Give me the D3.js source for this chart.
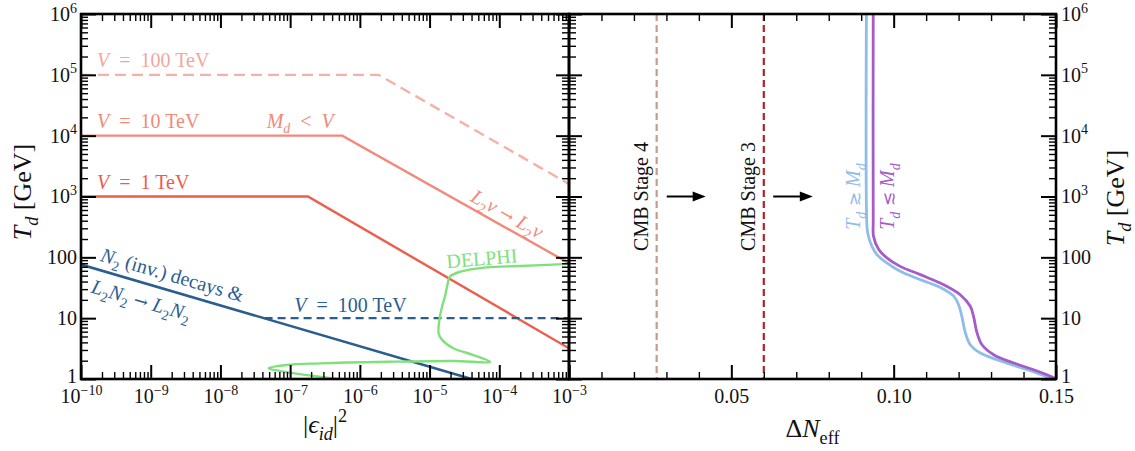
<!DOCTYPE html>
<html>
<head>
<meta charset="utf-8">
<script src="https://cdn.jsdelivr.net/npm/d3@7"></script>
<style>
  body { margin: 0; background: #fff; }
  svg { display: block; font-family: "Liberation Serif", "Times New Roman", serif; }
</style>
</head>
<body>
<svg id="chart" width="1135" height="451"></svg>
<script>
// tick values
const tdTicks = [1, 10, 100, 1e3, 1e4, 1e5, 1e6];
const epsTicks = [1e-10, 1e-9, 1e-8, 1e-7, 1e-6, 1e-5, 1e-4, 1e-3];
const dnTicks = [0, 0.05, 0.10, 0.15];
const dnMinorTicks = [0.01, 0.02, 0.03, 0.04, 0.06, 0.07, 0.08, 0.09, 0.11, 0.12, 0.13, 0.14];

// left panel: [|eps_id|^2, T_d in GeV]
const v1TeV = [[1e-10, 1e3], [1.8e-7, 1e3], [1e-3, 3.2]];
const v10TeV = [[1e-10, 1e4], [5.6e-7, 1e4], [1e-3, 80]];
const v100TeV = [[1e-10, 1e5], [1.86e-6, 1e5], [1e-3, 1.6e3]];
const n2Decays = [[1e-10, 76], [4e-5, 1]];
const n2V100 = [[4.3e-8, 10], [1e-3, 10]];
const delphi = [
  [1e-3, 78], [2.0e-4, 72], [6.6e-5, 68.5], [2.75e-5, 58], [1.95e-5, 48], [1.82e-5, 37],
  [1.66e-5, 22.5], [1.51e-5, 15.4], [1.38e-5, 9.3], [1.35e-5, 5.6], [1.51e-5, 4.4],
  [2.19e-5, 3.2], [4.27e-5, 2.48], [7.4e-5, 1.92], [2.2e-5, 1.98], [2.45e-6, 1.92],
  [2.7e-7, 1.81], [8.9e-8, 1.70], [4.9e-8, 1.50], [7.2e-8, 1.35], [1.74e-7, 1.16], [4.7e-7, 1.0]
];

// right panel: [Delta N_eff, T_d in GeV]
const cmbStage4 = 0.027;
const cmbStage3 = 0.06;
const cmbArrows = [[0.0301, 0.0421], [0.0629, 0.0751]];
const dnAbove = [
  [0.0916, 1e6], [0.0917, 400], [0.092, 251], [0.0933, 151], [0.0949, 110], [0.0979, 81],
  [0.102, 59], [0.1082, 43], [0.1144, 32], [0.1185, 23], [0.12, 16.6], [0.121, 10.7],
  [0.1221, 5.7], [0.1236, 3.66], [0.1267, 2.67], [0.1318, 2.08], [0.138, 1.61],
  [0.1441, 1.26], [0.149, 1]
];
const dnBelow = [
  [0.0937, 1e6], [0.0937, 400], [0.0938, 221], [0.0954, 134], [0.0979, 98], [0.102, 71],
  [0.1082, 52], [0.1154, 35.5], [0.1205, 24.3], [0.1236, 15.7], [0.1246, 10.7],
  [0.1257, 5.7], [0.1272, 3.66], [0.1308, 2.51], [0.137, 1.83], [0.1431, 1.42],
  [0.1483, 1.11], [0.15, 1]
];

const FONT = '"Liberation Serif", "Times New Roman", serif';
const EN = '\u2002';
const yTop = 14, yBot = 379, lx0 = 81, mid = 569, rx1 = 1056;

const svg = d3.select('#chart');
const xL = d3.scaleLog().domain([1e-10, 1e-3]).range([lx0, mid]);
const xR = d3.scaleLinear().domain([0, 0.15]).range([mid, rx1]);
const y = d3.scaleLog().domain([1, 1e6]).range([yBot, yTop]);

const isMajor = (majors) => (v) => majors.some(m => Math.abs(m - v) / m < 1e-6);
const epsMinor = xL.ticks().filter(v => !isMajor(epsTicks)(v));
const tdMinor = y.ticks().filter(v => !isMajor(tdTicks)(v));

// text with italic parts, sub- and superscripts, math symbols
function rich(text, parts, fs) {
  let shift = 0;
  parts.forEach(p => {
    const lvl = p.sub ? 0.28 : p.sup ? -0.42 : 0;
    const ts = text.append('tspan').text(p.t);
    if (p.it) ts.attr('font-style', 'italic');
    if (p.sub || p.sup) ts.attr('font-size', fs * 0.7);
    if (p.sym) ts.attr('font-family', '"DejaVu Serif", serif').attr('font-size', fs * 0.85);
    const dy = (lvl - shift) * fs;
    if (dy) ts.attr('dy', dy);
    shift = lvl;
  });
  return text;
}

function powLabel(t, v) {
  const e = Math.round(Math.log10(v));
  if (e >= 0 && e <= 2) { t.text(v); return; }
  rich(t, [{ t: '10' }, { t: e < 0 ? '\u2212' + (-e) : String(e), sup: true }], 20);
}

function drawAxis(make, scale, tr, majors, minors, majLen, minLen, pad, fmt) {
  const gm = svg.append('g').attr('transform', tr)
    .call(make(scale).tickValues(minors).tickSizeInner(-minLen).tickSizeOuter(0).tickFormat(''));
  gm.select('.domain').remove();
  gm.selectAll('line').attr('stroke-width', 1.4);

  const gM = svg.append('g').attr('transform', tr)
    .call(make(scale).tickValues(majors).tickSizeInner(-majLen).tickSizeOuter(0).tickPadding(pad).tickFormat(''));
  gM.select('.domain').remove();
  gM.selectAll('line').attr('stroke-width', 2);
  gM.attr('font-size', 20).attr('font-family', FONT);
  if (fmt) {
    gM.selectAll('.tick text').attr('fill', '#111').each(function (d) { fmt(d3.select(this), d); });
  } else {
    gM.selectAll('.tick text').remove();
  }
  return gM;
}

// clip paths
const defs = svg.append('defs');
defs.append('clipPath').attr('id', 'clipL').append('rect')
  .attr('x', lx0).attr('y', yTop).attr('width', mid - lx0).attr('height', yBot - yTop);
defs.append('clipPath').attr('id', 'clipR').append('rect')
  .attr('x', mid).attr('y', yTop).attr('width', rx1 - mid).attr('height', yBot - yTop);

// ---------- left panel ----------
const gL = svg.append('g').attr('clip-path', 'url(#clipL)');
const lineL = d3.line().x(d => xL(d[0])).y(d => y(d[1]));

gL.append('path').datum(v100TeV).attr('d', lineL).attr('fill', 'none')
  .attr('stroke', '#f6b1a7').attr('stroke-width', 2.4).attr('stroke-dasharray', '11,6');
gL.append('path').datum(v10TeV).attr('d', lineL).attr('fill', 'none')
  .attr('stroke', '#f2897a').attr('stroke-width', 2.4);
gL.append('path').datum(v1TeV).attr('d', lineL).attr('fill', 'none')
  .attr('stroke', '#ee5c4c').attr('stroke-width', 2.4);
gL.append('path').datum(n2V100).attr('d', lineL).attr('fill', 'none')
  .attr('stroke', '#2b5e90').attr('stroke-width', 2.4).attr('stroke-dasharray', '8,5');
gL.append('path').datum(n2Decays).attr('d', lineL).attr('fill', 'none')
  .attr('stroke', '#2b5e90').attr('stroke-width', 2.6);
gL.append('path').datum(delphi).attr('d', d3.line().x(d => xL(d[0])).y(d => y(d[1]))
  .curve(d3.curveCatmullRom.alpha(0.5))).attr('fill', 'none')
  .attr('stroke', '#80e07c').attr('stroke-width', 2.4);

// label placed along a straight segment of a curve
function alongSeg(seg, eps, off, parts, color) {
  const p0 = [xL(seg[0][0]), y(seg[0][1])], p1 = [xL(seg[1][0]), y(seg[1][1])];
  const ang = Math.atan2(p1[1] - p0[1], p1[0] - p0[0]) * 180 / Math.PI;
  const t = (xL(eps) - p0[0]) / (p1[0] - p0[0]);
  const px = p0[0] + t * (p1[0] - p0[0]), py = p0[1] + t * (p1[1] - p0[1]);
  const txt = svg.append('text').attr('font-size', 20).attr('fill', color)
    .attr('transform', `translate(${px},${py}) rotate(${ang}) translate(0,${off})`);
  rich(txt, parts, 20);
}

function label(x, yy, parts, color, rot) {
  const txt = svg.append('text').attr('font-size', 20).attr('fill', color)
    .attr('transform', `translate(${x},${yy}) rotate(${rot || 0})`);
  return rich(txt, parts, 20);
}

const arrow = { t: ' \u2192 ', sym: true };
label(xL(1.7e-10), y(1.35e5), [{ t: 'V', it: true }, { t: EN + '=' + EN + '100 TeV' }], '#f4a69b');
label(xL(1.7e-10), y(1.35e4), [{ t: 'V', it: true }, { t: EN + '=' + EN + '10 TeV' }], '#f2897a');
label(xL(1.7e-10), y(1.32e3), [{ t: 'V', it: true }, { t: EN + '=' + EN + '1 TeV' }], '#ee5c4c');
label(xL(4.6e-8), y(1.35e4), [{ t: 'M', it: true }, { t: 'd', it: true, sub: true }, { t: EN + '<' + EN },
  { t: 'V', it: true }], '#f2897a');
alongSeg(v10TeV.slice(1), 3.4e-5, -6,
  [{ t: 'L', it: true }, { t: '2', sub: true }, { t: '\u03bd', it: true }, arrow,
   { t: 'L', it: true }, { t: '2', sub: true }, { t: '\u03bd', it: true }], '#f2897a');
alongSeg(n2Decays, 1.7e-10, -9,
  [{ t: 'N', it: true }, { t: '2', sub: true }, { t: ' (inv.) decays &' }], '#2b5e90');
alongSeg(n2Decays, 1.7e-10, 24,
  [{ t: 'L', it: true }, { t: '2', sub: true }, { t: 'N', it: true }, { t: '2', sub: true }, arrow,
   { t: 'L', it: true }, { t: '2', sub: true }, { t: 'N', it: true }, { t: '2', sub: true }], '#2b5e90');
label(xL(1.15e-7), y(12.8), [{ t: 'V', it: true }, { t: EN + '=' + EN + '100 TeV' }], '#2b5e90');
label(xL(1.78e-5), y(66), [{ t: 'DELPHI' }], '#80e07c', -5);

// ---------- right panel ----------
const gR = svg.append('g').attr('clip-path', 'url(#clipR)');
const lineR = d3.line().x(d => xR(d[0])).y(d => y(d[1])).curve(d3.curveCatmullRom.alpha(0.5));

gR.append('line').attr('x1', xR(cmbStage4)).attr('x2', xR(cmbStage4)).attr('y1', yTop).attr('y2', yBot)
  .attr('stroke', '#bf9f8c').attr('stroke-width', 2.2).attr('stroke-dasharray', '7,4');
gR.append('line').attr('x1', xR(cmbStage3)).attr('x2', xR(cmbStage3)).attr('y1', yTop).attr('y2', yBot)
  .attr('stroke', '#b0222b').attr('stroke-width', 2.2).attr('stroke-dasharray', '7,4');
gR.append('path').datum(dnAbove).attr('d', lineR).attr('fill', 'none')
  .attr('stroke', '#8fbde9').attr('stroke-width', 2.8);
gR.append('path').datum(dnBelow).attr('d', lineR).attr('fill', 'none')
  .attr('stroke', '#a55bc8').attr('stroke-width', 2.8);

const yArrow = y(1e3);
cmbArrows.forEach(a => {
  const x0 = xR(a[0]), x1 = xR(a[1]);
  gR.append('line').attr('x1', x0).attr('x2', x1 - 8).attr('y1', yArrow).attr('y2', yArrow)
    .attr('stroke', '#000').attr('stroke-width', 2);
  gR.append('path').attr('d', `M${x1},${yArrow} L${x1 - 13},${yArrow - 5} L${x1 - 13},${yArrow + 5} Z`).attr('fill', '#000');
});

function vlabel(x, parts, color) {
  const txt = svg.append('text').attr('font-size', 20).attr('fill', color).attr('text-anchor', 'middle')
    .attr('transform', `translate(${x},${yArrow}) rotate(-90)`);
  rich(txt, parts, 20);
}
vlabel(xR(cmbStage4) - 9, [{ t: 'CMB Stage 4' }], '#111');
vlabel(xR(cmbStage3) - 9, [{ t: 'CMB Stage 3' }], '#111');
vlabel(xR(0.0915) - 6, [{ t: 'T', it: true }, { t: 'd', it: true, sub: true }, { t: ' \u2273 ', sym: true },
  { t: 'M', it: true }, { t: 'd', it: true, sub: true }], '#8fbde9');
vlabel(xR(0.0937) + 21, [{ t: 'T', it: true }, { t: 'd', it: true, sub: true }, { t: ' \u2272 ', sym: true },
  { t: 'M', it: true }, { t: 'd', it: true, sub: true }], '#a55bc8');

// ---------- axes ----------
// left panel
drawAxis(d3.axisBottom, xL, `translate(0,${yBot})`, epsTicks, epsMinor, 14, 7, 10, powLabel);
drawAxis(d3.axisTop, xL, `translate(0,${yTop})`, epsTicks, epsMinor, 14, 7, 0, null);
const gyL = drawAxis(d3.axisLeft, y, `translate(${lx0},0)`, tdTicks, tdMinor, 15, 7, 4, powLabel);
drawAxis(d3.axisRight, y, `translate(${mid},0)`, tdTicks, tdMinor, 13, 7, 0, null);
// right panel
drawAxis(d3.axisBottom, xR, `translate(0,${yBot})`, dnTicks, dnMinorTicks, 14, 7, 10,
  (t, v) => { if (v > 0) t.text(d3.format('.2f')(v)); });
drawAxis(d3.axisTop, xR, `translate(0,${yTop})`, dnTicks, dnMinorTicks, 14, 7, 0, null);
drawAxis(d3.axisLeft, y, `translate(${mid},0)`, tdTicks, tdMinor, 13, 7, 0, null);
const gyR = drawAxis(d3.axisRight, y, `translate(${rx1},0)`, tdTicks, tdMinor, 15, 7, 5, powLabel);
// lift the "1" labels a little so they clear the x labels
[gyL, gyR].forEach(g => g.selectAll('.tick text').filter(d => d === 1).attr('dy', '0.18em'));

// frames
[[lx0, mid], [mid, rx1]].forEach(([a, b]) => {
  svg.append('rect').attr('x', a).attr('y', yTop).attr('width', b - a).attr('height', yBot - yTop)
    .attr('fill', 'none').attr('stroke', '#000').attr('stroke-width', 2.6);
});

// axis titles
function title(tr, parts) {
  const txt = svg.append('text').attr('font-size', 26).attr('fill', '#111')
    .attr('text-anchor', 'middle').attr('transform', tr);
  rich(txt, parts, 26);
}
const tdTitle = [{ t: 'T', it: true }, { t: 'd', it: true, sub: true }, { t: ' [GeV]' }];
title('translate(31,192) rotate(-90)', tdTitle);
title('translate(1124,198) rotate(-90)', tdTitle);
title(`translate(${(lx0 + mid) / 2},433)`,
  [{ t: '|' }, { t: '\u03f5', it: true }, { t: 'id', it: true, sub: true }, { t: '|' }, { t: '2', sup: true }]);
title(`translate(${(mid + rx1) / 2},437)`,
  [{ t: '\u0394' }, { t: 'N', it: true }, { t: 'eff', sub: true }]);
</script>
</body>
</html>
